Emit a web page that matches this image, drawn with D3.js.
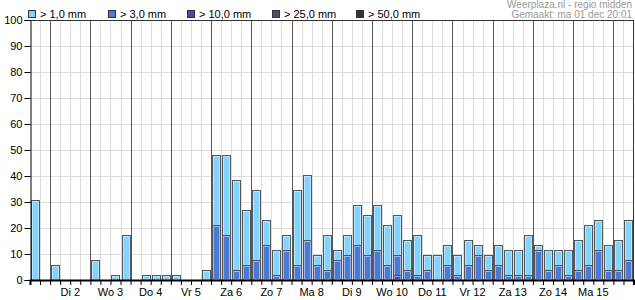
<!DOCTYPE html>
<html><head><meta charset="utf-8">
<script src="https://cdn.jsdelivr.net/npm/d3@7"></script>
<style>
body{margin:0;background:#fff;}
svg{display:block;font-family:"Liberation Sans",Arial,sans-serif;}
</style></head><body>
<svg id="c" width="635" height="300"></svg>
<script>
// 6-hour slots starting ma 1 18:00 (60 slots)
const slots = d3.range(60);
const p1  = [30.8,0,5.8,0,0,0,7.7,0,1.9,17.3, 0,1.9,1.9,1.9,1.9,0,0,3.8,48.1,48.1,
             38.5,26.9,34.6,23.1,11.5,17.3,34.6,40.4,9.6,17.3, 11.5,17.3,28.8,25.0,28.8,21.2,25.0,15.4,17.3,9.6,
             9.6,13.5,9.6,15.4,13.5,9.6,13.5,11.5,11.5,17.3, 13.5,11.5,11.5,11.5,15.4,21.2,23.1,13.5,15.4,23.1];
const p3  = [0,0,0,0,0,0,0,0,0,0, 0,0,0,0,0,0,0,0,21.2,17.3,
             3.8,5.8,7.7,13.5,1.9,11.5,5.8,15.4,5.8,3.8, 7.7,9.6,13.5,9.6,11.5,5.8,9.6,3.8,1.9,3.8,
             0,5.8,1.9,5.8,9.6,3.8,5.8,1.9,1.9,1.9, 11.5,3.8,5.8,1.9,3.8,5.8,11.5,3.8,3.8,7.7];
const p10 = [0,0,0,0,0,0,0,0,0,0, 0,0,0,0,0,0,0,0,0,0,
             0,0,0,0,0,0,0,0,0,0, 0,0,0,0,0,0,1.9,0,0,0,
             0,0,0,0,0,0,0,0,0,0, 0,0,0,0,0,0,0,0,0,0];
const p25 = new Array(60).fill(0);
const p50 = new Array(60).fill(0);
const dayLabels = ["Di 2","Wo 3","Do 4","Vr 5","Za 6","Zo 7","Ma 8","Di 9","Wo 10","Do 11","Vr 12","Za 13","Zo 14","Ma 15"];
const dayStart = 2; // slot index of first full day
const yTicks = [0,10,20,30,40,50,60,70,80,90,100];
const legendLabels = ["> 1,0 mm","> 3,0 mm","> 10,0 mm","> 25,0 mm","> 50,0 mm"];
const colors = ["#80d4ff","#4a7ad6","#4a4aa8","#4e4e72","#333333"];
const series = [p1,p3,p10,p25,p50];
const header = ["Weerplaza.nl - regio midden","Gemaakt: ma 01 dec 20:01"];

const svg = d3.select("#c");
const L=30, R=633.5, T=20, B=280;
const x = d3.scaleLinear().domain([0,60]).range([L,R]);
const y = d3.scaleLinear().domain([0,100]).range([B,T]);
const sw = x(1)-x(0);

// grid
const g = svg.append("g");
g.selectAll(".hg").data(yTicks.filter(d=>d>0&&d<100)).join("line")
 .attr("x1",L).attr("x2",R).attr("y1",d=>Math.round(y(d))+0.5).attr("y2",d=>Math.round(y(d))+0.5)
 .attr("stroke","#dcdcdc");
g.selectAll(".vg").data(d3.range(1,60)).join("line")
 .attr("x1",d=>Math.round(x(d))+0.5).attr("x2",d=>Math.round(x(d))+0.5).attr("y1",T).attr("y2",B)
 .attr("stroke",d=>((d-dayStart)%4===0)?"#5a5a5a":"#dcdcdc");

// bars
series.forEach((s,si)=>{
  const sg = svg.append("g");
  const data = slots.map(i=>({i,v:s[i]})).filter(d=>d.v>0);
  sg.selectAll("rect.o").data(data).join("rect")
    .attr("x",d=>Math.round(x(d.i))+1.5).attr("width",Math.round(sw)-2)
    .attr("y",d=>Math.round(y(d.v))+0.5).attr("height",d=>B-Math.round(y(d.v))-0.5)
    .attr("fill",colors[si]).attr("stroke","#555").attr("stroke-width",1);
  sg.selectAll("rect.i").data(data.filter(d=>B-y(d.v)>3)).join("rect")
    .attr("x",d=>Math.round(x(d.i))+2.5).attr("width",Math.round(sw)-4)
    .attr("y",d=>Math.round(y(d.v))+1.5).attr("height",d=>B-Math.round(y(d.v))-2)
    .attr("fill","none").attr("stroke","rgba(255,255,255,0.45)").attr("stroke-width",1);
});

// frame
svg.append("line").attr("x1",L).attr("x2",R).attr("y1",T+0.5).attr("y2",T+0.5).attr("stroke","#333");
svg.append("line").attr("x1",Math.round(R)-0.5).attr("x2",Math.round(R)-0.5).attr("y1",T).attr("y2",B).attr("stroke","#333");

// y axis
const ya = svg.append("g").attr("transform",`translate(${L+0.5},0)`)
  .call(d3.axisLeft(y).tickValues(yTicks).tickSize(6).tickPadding(2));
ya.select(".domain").attr("stroke","#000");
ya.selectAll(".tick line").attr("stroke","#000");
ya.selectAll("text").attr("font-size",11).attr("fill","#000").attr("font-family","Liberation Sans, Arial, sans-serif");

// x axis
const xa = svg.append("g").attr("transform",`translate(0,${B})`)
  .call(d3.axisBottom(x).tickValues(d3.range(0,61)).tickSize(5).tickFormat(""));
xa.select(".domain").attr("stroke","#000").attr("stroke-width",2);
xa.selectAll(".tick line").attr("stroke","#000");
svg.selectAll(".dl").data(dayLabels).join("text")
  .attr("x",(d,k)=>x(dayStart+k*4+2)).attr("y",296).attr("text-anchor","middle")
  .attr("font-size",11).attr("fill","#000").text(d=>d);

// legend
const lx = [28,108,187,272,356];
const lg = svg.append("g");
legendLabels.forEach((t,k)=>{
  lg.append("rect").attr("x",lx[k]+0.5).attr("y",10.5).attr("width",7).attr("height",7)
    .attr("fill",colors[k]).attr("stroke","#333");
  lg.append("text").attr("x",lx[k]+12).attr("y",18).attr("font-size",11).attr("fill","#000").text(t);
});

// header
svg.selectAll(".hd").data(header).join("text")
  .attr("x",632).attr("y",(d,k)=>8+k*10).attr("text-anchor","end")
  .attr("font-size",10).attr("fill","#999").text(d=>d);
</script>
</body></html>
